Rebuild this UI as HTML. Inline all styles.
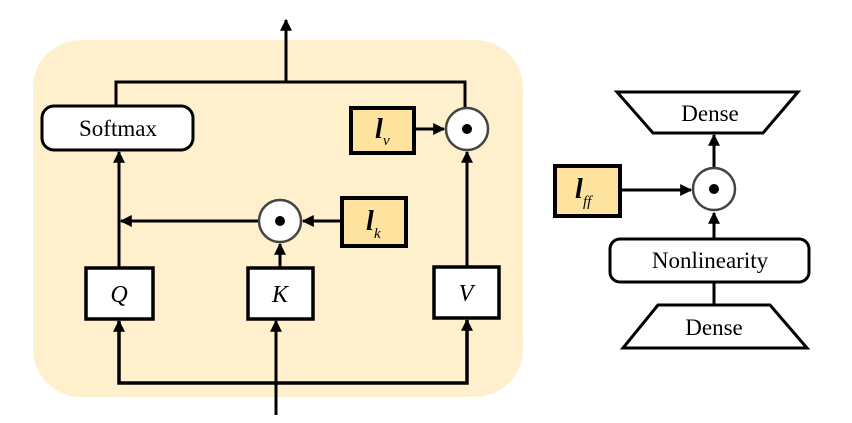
<!DOCTYPE html>
<html><head><meta charset="utf-8"><style>
html,body{margin:0;padding:0;background:#fff;}
svg{display:block;}
text{font-family:"Liberation Serif",serif;fill:#000;}
</style></head><body>
<svg width="852" height="423" viewBox="0 0 852 423" xmlns="http://www.w3.org/2000/svg">
<defs>
<marker id="a" viewBox="0 0 10 10" refX="9" refY="5" markerWidth="4" markerHeight="4" orient="auto"><path d="M0,0 L10,5 L0,10 z" fill="#000"/></marker>
</defs>
<rect x="33" y="40" width="490" height="357" rx="48" fill="#fef0cd"/>
<g stroke="#000" stroke-width="3" fill="none">
<line x1="286" y1="82" x2="286" y2="20" marker-end="url(#a)"/>
<polyline points="116,106 116,82 465,82 465,108"/>
<line x1="119" y1="267" x2="119" y2="152" marker-end="url(#a)"/>
<line x1="259" y1="221" x2="121" y2="221" marker-end="url(#a)"/>
<line x1="341" y1="221" x2="303" y2="221" marker-end="url(#a)"/>
<line x1="280" y1="267" x2="280" y2="244" marker-end="url(#a)"/>
<line x1="414" y1="129" x2="444" y2="129" marker-end="url(#a)"/>
<line x1="467" y1="266" x2="467" y2="152" marker-end="url(#a)"/>
<polyline points="119,321 119,383 467,383 467,320" stroke-width="3.5"/>
<line x1="119" y1="340" x2="119" y2="321" marker-end="url(#a)"/>
<line x1="467" y1="340" x2="467" y2="320" marker-end="url(#a)"/>
<line x1="276" y1="415" x2="276" y2="321" marker-end="url(#a)"/>
<line x1="620" y1="190" x2="691" y2="190" marker-end="url(#a)"/>
<line x1="714" y1="167" x2="714" y2="135" marker-end="url(#a)"/>
<line x1="714" y1="239" x2="714" y2="213" marker-end="url(#a)"/>
<line x1="714" y1="282" x2="714" y2="305"/>
</g>
<rect x="42" y="106" width="151" height="44" rx="12" fill="#fff" stroke="#000" stroke-width="3"/>
<text x="118" y="136" font-size="23" text-anchor="middle">Softmax</text>
<rect x="86" y="268" width="67" height="51" fill="#fff" stroke="#000" stroke-width="3.5"/>
<text x="119" y="302" font-size="24" font-style="italic" text-anchor="middle">Q</text>
<rect x="248" y="268" width="65" height="51" fill="#fff" stroke="#000" stroke-width="3.5"/>
<text x="280" y="302" font-size="24" font-style="italic" text-anchor="middle">K</text>
<rect x="434" y="267" width="65" height="51" fill="#fff" stroke="#000" stroke-width="3.5"/>
<text x="466" y="301" font-size="24" font-style="italic" text-anchor="middle">V</text>
<circle cx="280" cy="221" r="21" fill="#fff" stroke="#444" stroke-width="2.5"/>
<circle cx="280" cy="221" r="5" fill="#000"/>
<circle cx="467" cy="129" r="21" fill="#fff" stroke="#444" stroke-width="2.5"/>
<circle cx="467" cy="129" r="5" fill="#000"/>
<rect x="342" y="198" width="64" height="48" fill="#fee39e" stroke="#000" stroke-width="4"/>
<text x="366" y="230" font-size="28" font-style="italic" font-weight="bold">l</text><text x="374" y="238" font-size="15" font-style="italic">k</text>
<rect x="351" y="108" width="63" height="45" fill="#fee39e" stroke="#000" stroke-width="4"/>
<text x="375" y="138" font-size="28" font-style="italic" font-weight="bold">l</text><text x="383" y="145" font-size="15" font-style="italic">v</text>
<polygon points="617,92 798,92 763,133 653,133" fill="#fff" stroke="#000" stroke-width="3"/>
<text x="710" y="121" font-size="23" text-anchor="middle">Dense</text>
<circle cx="714" cy="189" r="21" fill="#fff" stroke="#444" stroke-width="2.5"/>
<circle cx="714" cy="189" r="5" fill="#000"/>
<rect x="555" y="166" width="65" height="50" fill="#fee39e" stroke="#000" stroke-width="4"/>
<text x="575" y="198" font-size="28" font-style="italic" font-weight="bold">l</text><text x="583" y="206" font-size="15" font-style="italic">ff</text>
<rect x="610" y="239" width="199" height="43" rx="10" fill="#fff" stroke="#000" stroke-width="3"/>
<text x="710" y="268" font-size="23" text-anchor="middle">Nonlinearity</text>
<polygon points="658,305 770,305 807,348 623,348" fill="#fff" stroke="#000" stroke-width="3"/>
<text x="714" y="335" font-size="23" text-anchor="middle">Dense</text>
</svg>
</body></html>
